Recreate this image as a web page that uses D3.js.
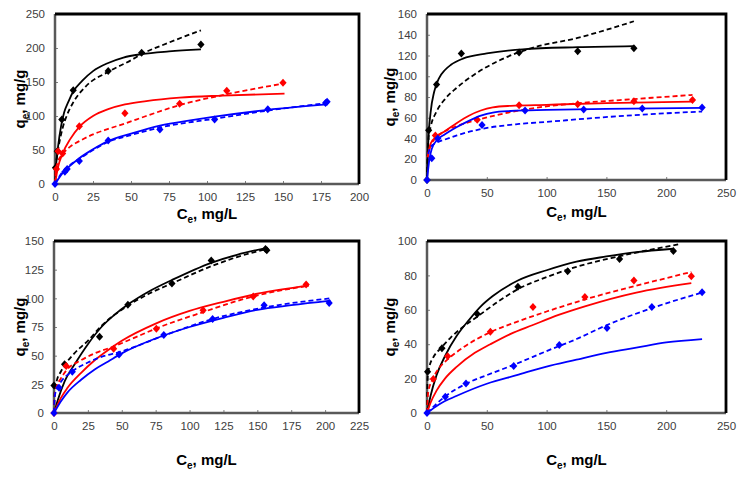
<!DOCTYPE html>
<html>
<head>
<meta charset="utf-8">
<script src="https://cdn.jsdelivr.net/npm/d3@7"></script>
<style>
  body { margin: 0; background: #fff; }
  svg { display: block; }
</style>
</head>
<body>
<svg id="chart" width="748" height="480"></svg>
<script>
// panel 1 (top left)
const p1BlackPts = [[0.3,24],[1.5,48],[4.5,95],[12,138],[35,166],[57,193],[96,205]];
const p1BlackSolid = [[0,0],[0.5,20],[1,35],[2,55],[4,85],[6,105],[9,122],[12,136],[18,152],[25,166],[35,178],[45,186],[57,191],[75,195],[96,198]];
const p1BlackDash = [[0,0],[0.5,25],[1,35],[2,50],[5,82],[8,102],[12,120],[20,143],[35,165],[50,182],[57,191],[75,208],[96,226]];
const p1RedPts = [[1,22],[2,48],[5,45],[16,85],[46,104],[82,118],[113,137],[150,149]];
const p1RedSolid = [[0,0],[2,25],[5,45],[10,66],[16,84],[25,100],[35,110],[46,117],[60,122],[82,127],[110,130],[151,133]];
const p1RedDash = [[0,0],[0.5,20],[2,33],[5,44],[10,55],[16,63],[25,73],[35,81],[46,89],[60,100],[82,116],[113,132],[151,148]];
const p1BluePts = [[0,0],[6.5,18],[8,22],[16,34],[35,64],[69,80],[105,95],[140,110],[178,119],[179,121]];
const p1BlueSolid = [[0,0],[5,16],[10,27],[16,38],[25,51],[35,63],[50,74],[69,86],[90,94],[105,99],[140,109],[179,117]];
const p1BlueDash = [[0,0],[5,18],[10,28],[16,37],[25,50],[35,62],[50,72],[69,83],[105,96],[140,108],[179,119]];

// panel 2 (top right)
const p2BlackPts = [[0,0],[1.4,48],[8,92],[28.7,122],[77,123],[126,124],[173,127]];
const p2BlackSolid = [[0,0],[1,35],[3,65],[6,85],[10,98],[15,106],[20,111],[30,117],[50,122],[80,126],[126,128],[173,129]];
const p2BlackDash = [[0,0],[1,38],[3,51],[8,66],[15,78],[25,89],[40,102],[60,115],[87,127],[126,137],[173,153]];
const p2RedPts = [[7,43],[42,58],[77,72],[126,73],[173,76],[222,77]];
const p2RedSolid = [[0.5,22],[3,35],[8,42],[15,47],[25,55],[35,62],[45,67],[55,70],[70,71.5],[100,72.5],[150,74],[222,75.5]];
const p2RedDash = [[0.5,22],[3,33],[8,41],[15,47],[25,52],[42,58],[60,63],[77,67],[100,71],[126,74],[173,78],[222,82]];
const p2BluePts = [[0,0],[4,21],[9,40],[46,53],[82,67],[131,68],[180,69],[230,70]];
const p2BlueSolid = [[0,0],[2,20],[4,30],[8,38],[15,44],[25,51],[35,57],[45,62],[55,65],[70,66.5],[100,67.5],[150,68.5],[230,69.5]];
const p2BlueDash = [[1,25],[3,32],[8,36],[15,39],[25,43],[45,49],[77,54],[100,56],[131,59],[180,63],[230,66]];

// panel 3 (bottom left)
const p3BlackPts = [[0,24],[7.8,42.5],[33.6,66.5],[54.5,94.5],[87,113],[116,133],[156,143],[157,142]];
const p3BlackSolid = [[0,0],[3,12],[8,28],[15,42],[25,60],[35,75],[45,86],[55,95],[70,106],[87,116],[116,131],[135,138],[157,144]];
const p3BlackDash = [[0,0],[0.5,18],[2,28],[5,36],[8,42],[15,52],[25,63],[35,76],[45,86],[55,94],[70,104],[87,113],[116,128],[135,136],[157,143]];
const p3RedPts = [[0,0],[9,41],[44,56],[75.5,73.4],[110,89.6],[147,101.7],[186,112]];
const p3RedSolid = [[0,0],[5,13],[10,22],[20,35],[30,46],[40,55],[50,63],[75,78],[100,89],[125,97],[150,104],[188,111]];
const p3RedDash = [[0,0],[0.5,15],[2,23],[5,30],[9,37],[20,46],[30,52],[44,58],[60,66],[76,74],[110,88],[148,102],[188,111]];
const p3BluePts = [[0,0],[3.7,22],[13.5,36],[48,51],[81,68],[117,82],[155,94],[203,96]];
const p3BlueSolid = [[0,0],[5,10],[10,18],[20,29],[30,38],[40,45],[50,52],[75,65],[100,75],[125,83],[150,90],[175,94],[204,98]];
const p3BlueDash = [[0,0],[0.5,14],[2,21],[5,27],[13,36],[25,44],[35,49],[48,53],[80,67],[117,82],[155,92],[204,100]];

// panel 4 (bottom right)
const p4BlackPts = [[0.5,24],[12.5,37.6],[42,57.6],[76,73.4],[117.6,82.4],[161,89.5],[206,94.2]];
const p4BlackSolid = [[0,0],[3,10],[8,22],[15,33],[25,45],[35,54],[45,62],[55,68],[76,77],[100,83],[125,88],[150,91],[175,93.5],[206,95.5]];
const p4BlackDash = [[0,0],[0.5,20],[2,27],[5,32],[12,38],[20,44],[30,50],[42,56],[60,65],[76,72],[100,79],[125,85],[160,91],[210,98]];
const p4RedPts = [[5.3,19.8],[17.3,33],[53,47.3],[88.6,61.6],[132,67.4],[173,77],[221,79.5]];
const p4RedSolid = [[0,0],[3,6],[8,13],[15,20],[25,27],[40,35],[53,40],[70,46],[88,51],[110,57],[132,62],[175,70],[221,75.5]];
const p4RedDash = [[0,0],[1,12],[5,20],[10,26],[17,31],[30,38],[53,47],[75,53],[100,59],[132,66],[175,74],[221,82]];
const p4BluePts = [[0,0],[15.3,9.5],[32.6,17.2],[72.5,27.3],[110.6,39.5],[150.5,49.4],[188,61.6],[230,70.2]];
const p4BlueSolid = [[0,0],[10,5],[25,10],[50,17],[75,22],[100,27],[125,31],[150,35],[175,38],[200,41],[230,43]];
const p4BlueDash = [[0,0],[15,9.5],[32.6,17],[50,22],[72.5,28],[100,36],[125,43],[150,51],[188,61],[230,70]];

const black = "#000000", red = "#ff0000", blue = "#0000ff";

const panels = [
  { left: 55, top: 14, right: 359, bottom: 184, xMax: 200, xStep: 25, yMax: 250, yStep: 50, xTitleY: 219, yTitleX: 25,
    sets: [[p1BlackPts, p1BlackSolid, p1BlackDash, black], [p1RedPts, p1RedSolid, p1RedDash, red], [p1BluePts, p1BlueSolid, p1BlueDash, blue]] },
  { left: 427, top: 14, right: 726, bottom: 180, xMax: 250, xStep: 50, yMax: 160, yStep: 20, xTitleY: 217, yTitleX: 395,
    sets: [[p2BlackPts, p2BlackSolid, p2BlackDash, black], [p2RedPts, p2RedSolid, p2RedDash, red], [p2BluePts, p2BlueSolid, p2BlueDash, blue]] },
  { left: 54, top: 241, right: 359, bottom: 413, xMax: 225, xStep: 25, yMax: 150, yStep: 25, xTitleY: 465, yTitleX: 25,
    sets: [[p3BlackPts, p3BlackSolid, p3BlackDash, black], [p3RedPts, p3RedSolid, p3RedDash, red], [p3BluePts, p3BlueSolid, p3BlueDash, blue]] },
  { left: 427, top: 241, right: 726, bottom: 413, xMax: 250, xStep: 50, yMax: 100, yStep: 20, xTitleY: 465, yTitleX: 395,
    sets: [[p4BlackPts, p4BlackSolid, p4BlackDash, black], [p4RedPts, p4RedSolid, p4RedDash, red], [p4BluePts, p4BlueSolid, p4BlueDash, blue]] }
];

const svg = d3.select("#chart");
const font = "'Liberation Sans', Arial, sans-serif";
const axisGrey = "#7f7f7f";
// squat diamond marker like the spreadsheet one
const diamond = "M0,-4L3.6,0L0,4L-3.6,0Z";

panels.forEach((p) => {
  const x = d3.scaleLinear().domain([0, p.xMax]).range([p.left, p.right]);
  const y = d3.scaleLinear().domain([0, p.yMax]).range([p.bottom, p.top]);
  const g = svg.append("g");

  // ticks and labels
  const xAxis = d3.axisBottom(x).tickValues(d3.range(0, p.xMax + 0.01, p.xStep)).tickSize(-3).tickPadding(9);
  const yAxis = d3.axisLeft(y).tickValues(d3.range(0, p.yMax + 0.01, p.yStep)).tickSize(-3).tickPadding(10);

  const gx = g.append("g").attr("transform", `translate(0,${p.bottom})`).call(xAxis);
  const gy = g.append("g").attr("transform", `translate(${p.left},0)`).call(yAxis);
  [gx, gy].forEach((ax) => {
    ax.select(".domain").remove();
    ax.selectAll(".tick line").attr("stroke", axisGrey).attr("stroke-width", 1);
    ax.selectAll(".tick text").attr("font-family", font).attr("font-size", 11.5).attr("fill", "#404040");
  });

  // frame: grey left/bottom, black top/right
  g.append("line").attr("x1", p.left).attr("x2", p.right).attr("y1", p.bottom).attr("y2", p.bottom)
    .attr("stroke", "#595959").attr("stroke-width", 2.5);
  g.append("line").attr("x1", p.left).attr("x2", p.left).attr("y1", p.top).attr("y2", p.bottom)
    .attr("stroke", "#595959").attr("stroke-width", 2.5);
  g.append("path").attr("d", `M${p.left},${p.top}H${p.right}V${p.bottom}`)
    .attr("fill", "none").attr("stroke", "#000").attr("stroke-width", 2.8);

  const line = d3.line().x((d) => x(d[0])).y((d) => y(d[1])).curve(d3.curveMonotoneX);

  p.sets.forEach(([pts, solid, dash, color]) => {
    g.append("path").datum(solid).attr("d", line)
      .attr("fill", "none").attr("stroke", color).attr("stroke-width", 1.8);
    g.append("path").datum(dash).attr("d", line)
      .attr("fill", "none").attr("stroke", color).attr("stroke-width", 1.8).attr("stroke-dasharray", "5,3");
    g.selectAll(null).data(pts).join("path")
      .attr("transform", (d) => `translate(${x(d[0])},${y(d[1])})`)
      .attr("d", diamond)
      .attr("fill", color);
  });

  // axis titles
  const xt = g.append("text").attr("x", (p.left + p.right) / 2).attr("y", p.xTitleY)
    .attr("text-anchor", "middle").attr("font-family", font).attr("font-weight", "bold").attr("font-size", 15);
  xt.append("tspan").text("C");
  xt.append("tspan").attr("font-size", 10).attr("dy", 4).text("e");
  xt.append("tspan").attr("dy", -4).text(", mg/L");

  const yt = g.append("text")
    .attr("transform", `translate(${p.yTitleX},${(p.top + p.bottom) / 2}) rotate(-90)`)
    .attr("text-anchor", "middle").attr("font-family", font).attr("font-weight", "bold").attr("font-size", 15);
  yt.append("tspan").text("q");
  yt.append("tspan").attr("font-size", 10).attr("dy", 4).text("e");
  yt.append("tspan").attr("dy", -4).text(", mg/g");
});
</script>
</body>
</html>
